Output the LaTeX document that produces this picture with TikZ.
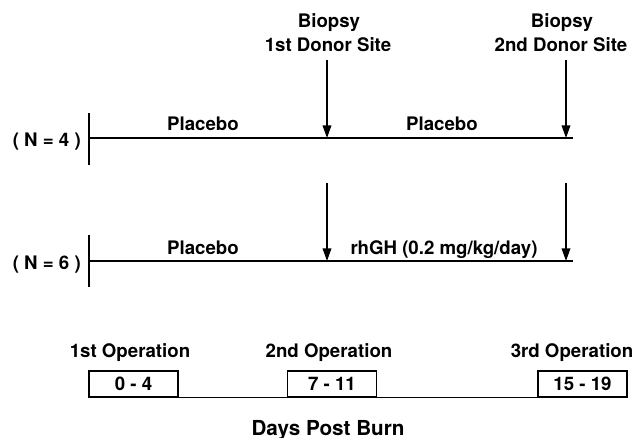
\documentclass[tikz,border=0pt]{standalone}
\usepackage{fontspec}
\setmainfont{TeX Gyre Heros}
\usetikzlibrary{arrows.meta}

\tikzset{
  lbl/.style={font=\bfseries\fontsize{14}{16}\selectfont, inner sep=0.75pt},
  daybox/.style={lbl, draw, line width=1pt, minimum width=66.75pt, minimum height=19.5pt},
  timeline/.style={line width=1.2pt},
  biopsy/.style={line width=1.1pt, -{Triangle[length=9.5pt,width=6.5pt]}},
}

\begin{document}
\begin{tikzpicture}[x=0.75pt,y=0.75pt,yscale=-1,xscale=1]
			\useasboundingbox (0,0) rectangle (638,438);

			% Coordinates of the two study groups
			\coordinate (startA) at (89,138);
			\coordinate (endA) at (573,138);
			\coordinate (tickAtop) at (89,113);
			\coordinate (tickAbot) at (89,165);
			\coordinate (startB) at (89,261);
			\coordinate (endB) at (573,261);
			\coordinate (tickBtop) at (89,235);
			\coordinate (tickBbot) at (89,287);

			% Biopsy arrows, group A
			\coordinate (bioAonetop) at (327,60);
			\coordinate (bioAonetip) at (327,138);
			\coordinate (bioAtwotop) at (566,60);
			\coordinate (bioAtwotip) at (566,138);
			% Biopsy arrows, group B
			\coordinate (bioBonetop) at (327,183);
			\coordinate (bioBonetip) at (327,261);
			\coordinate (bioBtwotop) at (566,183);
			\coordinate (bioBtwotip) at (566,261);

			%Straight Lines
			\draw [timeline] (startA) -- (endA) ;
			\draw [timeline] (tickAtop) -- (tickAbot) ;
			\draw [timeline] (startB) -- (endB) ;
			\draw [timeline] (tickBtop) -- (tickBbot) ;

			%Arrows
			\draw [biopsy] (bioAonetop) -- (bioAonetip) ;
			\draw [biopsy] (bioAtwotop) -- (bioAtwotip) ;
			\draw [biopsy] (bioBonetop) -- (bioBonetip) ;
			\draw [biopsy] (bioBtwotop) -- (bioBtwotip) ;

			% Text Node
			\node [lbl, anchor=base] (biopsyone) at (329,28) {Biopsy};
			% Text Node
			\node [lbl, anchor=base] (donorone) at (328,52) {1st Donor Site};
			% Text Node
			\node [lbl, anchor=base] (biopsytwo) at (562,28) {Biopsy};
			% Text Node
			\node [lbl, anchor=base] (donortwo) at (561,52) {2nd Donor Site};

			% Text Node
			\node [lbl, anchor=base east] (groupA) at (82,147) {( N = 4 )};
			% Text Node
			\node [lbl, anchor=base east] (groupB) at (82,269) {( N = 6 )};

			% Text Node
			\node [lbl, anchor=base] (placeboAone) at (203,131) {Placebo};
			% Text Node
			\node [lbl, anchor=base] (placeboAtwo) at (442,131) {Placebo};
			% Text Node
			\node [lbl, anchor=base] (placeboB) at (203,254) {Placebo};
			% Text Node
			\node [lbl, anchor=base] (rhgh) at (444,254) {rhGH (0.2 mg/kg/day)};

			% Operations
			\node [lbl, anchor=base] (opone) at (130,357) {1st Operation};
			\node [lbl, anchor=base] (optwo) at (329,357) {2nd Operation};
			\node [lbl, anchor=base] (opthree) at (572,357) {3rd Operation};

			\node [daybox] (dayone) at (133.5,384) {0 - 4};
			\node [daybox] (daytwo) at (332,384) {7 - 11};
			\node [daybox] (daythree) at (582.5,384) {15 - 19};

			\draw [line width=1pt] (dayone.south east) -- (daytwo.south west) ;
			\draw [line width=1pt] (daytwo.south east) -- (daythree.south west) ;

			% Text Node
			\node [lbl, font=\bfseries\fontsize{15.5}{18}\selectfont, anchor=base] (daysburn) at (328,435) {Days Post Burn};

\end{tikzpicture}
\end{document}
